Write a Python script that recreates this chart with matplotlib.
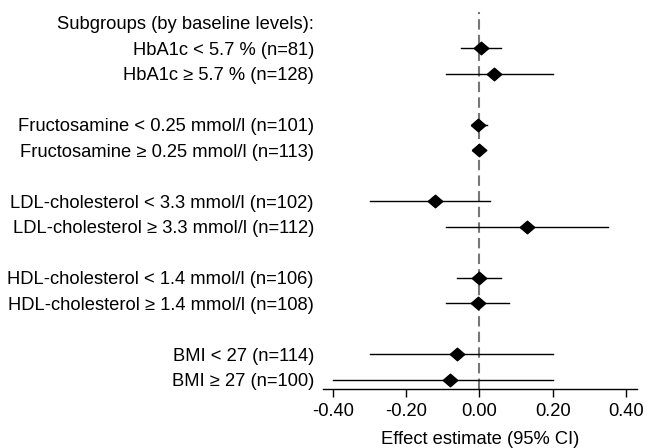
import matplotlib
matplotlib.use("Agg")
import matplotlib.pyplot as plt

plt.rcParams['font.family'] = ['Liberation Sans', 'DejaVu Sans']

header = "Subgroups (by baseline levels):"
labels = [
    "HbA1c < 5.7 % (n=81)",
    "HbA1c \u2265 5.7 % (n=128)",
    "Fructosamine < 0.25 mmol/l (n=101)",
    "Fructosamine \u2265 0.25 mmol/l (n=113)",
    "LDL-cholesterol < 3.3 mmol/l (n=102)",
    "LDL-cholesterol \u2265 3.3 mmol/l (n=112)",
    "HDL-cholesterol < 1.4 mmol/l (n=106)",
    "HDL-cholesterol \u2265 1.4 mmol/l (n=108)",
    "BMI < 27 (n=114)",
    "BMI \u2265 27 (n=100)",
]
estimate = [0.003, 0.04, -0.005, 0.0, -0.12, 0.13, 0.0, -0.005, -0.06, -0.08]
ci_low = [-0.05, -0.09, -0.015, -0.01, -0.30, -0.09, -0.06, -0.09, -0.30, -0.40]
ci_high = [0.06, 0.20, 0.02, 0.01, 0.03, 0.35, 0.06, 0.08, 0.20, 0.20]
xticks = [-0.40, -0.20, 0.00, 0.20, 0.40]
xtick_labels = ["-0.40", "-0.20", "0.00", "0.20", "0.40"]

# row positions: pairs separated by a blank row
rows = [1, 2, 4, 5, 7, 8, 10, 11, 13, 14]

W, H = 655, 448
fig = plt.figure(figsize=(W / 100, H / 100), dpi=100)
left, right = 323 / W, 637 / W
bottom, top = 1 - 389 / H, 1 - 12 / H
ax = fig.add_axes([left, bottom, right - left, top - bottom])

diamond = [(-1, 0), (0, -0.86), (1, 0), (0, 0.86), (-1, 0)]

ax.axvline(0, color='#777777', lw=1.5, ls=(0, (5, 2.5)), zorder=1)
for y, e, lo, hi in zip(rows, estimate, ci_low, ci_high):
    ax.plot([lo, hi], [y, y], color='black', lw=1.0, zorder=2)
ax.plot(estimate, rows, marker=diamond, color='black', ms=10.5, zorder=3, ls='none')

ax.set_xlim(-0.427, 0.43)
ax.set_ylim(14.37, -0.412)

fs = 13.2
ax.set_yticks([0] + rows)
ax.set_yticklabels([header] + labels, fontsize=fs)
ax.tick_params(axis='y', left=False, pad=3)

ax.set_xticks(xticks)
ax.set_xticklabels(xtick_labels, fontsize=fs)
ax.tick_params(axis='x', direction='out', length=6, width=1, color='black', pad=4)

for s in ['top', 'right', 'left']:
    ax.spines[s].set_visible(False)
ax.spines['bottom'].set_linewidth(1)

ax.set_xlabel("Effect estimate (95% CI)", fontsize=fs, labelpad=8)

fig.savefig("out.png", dpi=100)
